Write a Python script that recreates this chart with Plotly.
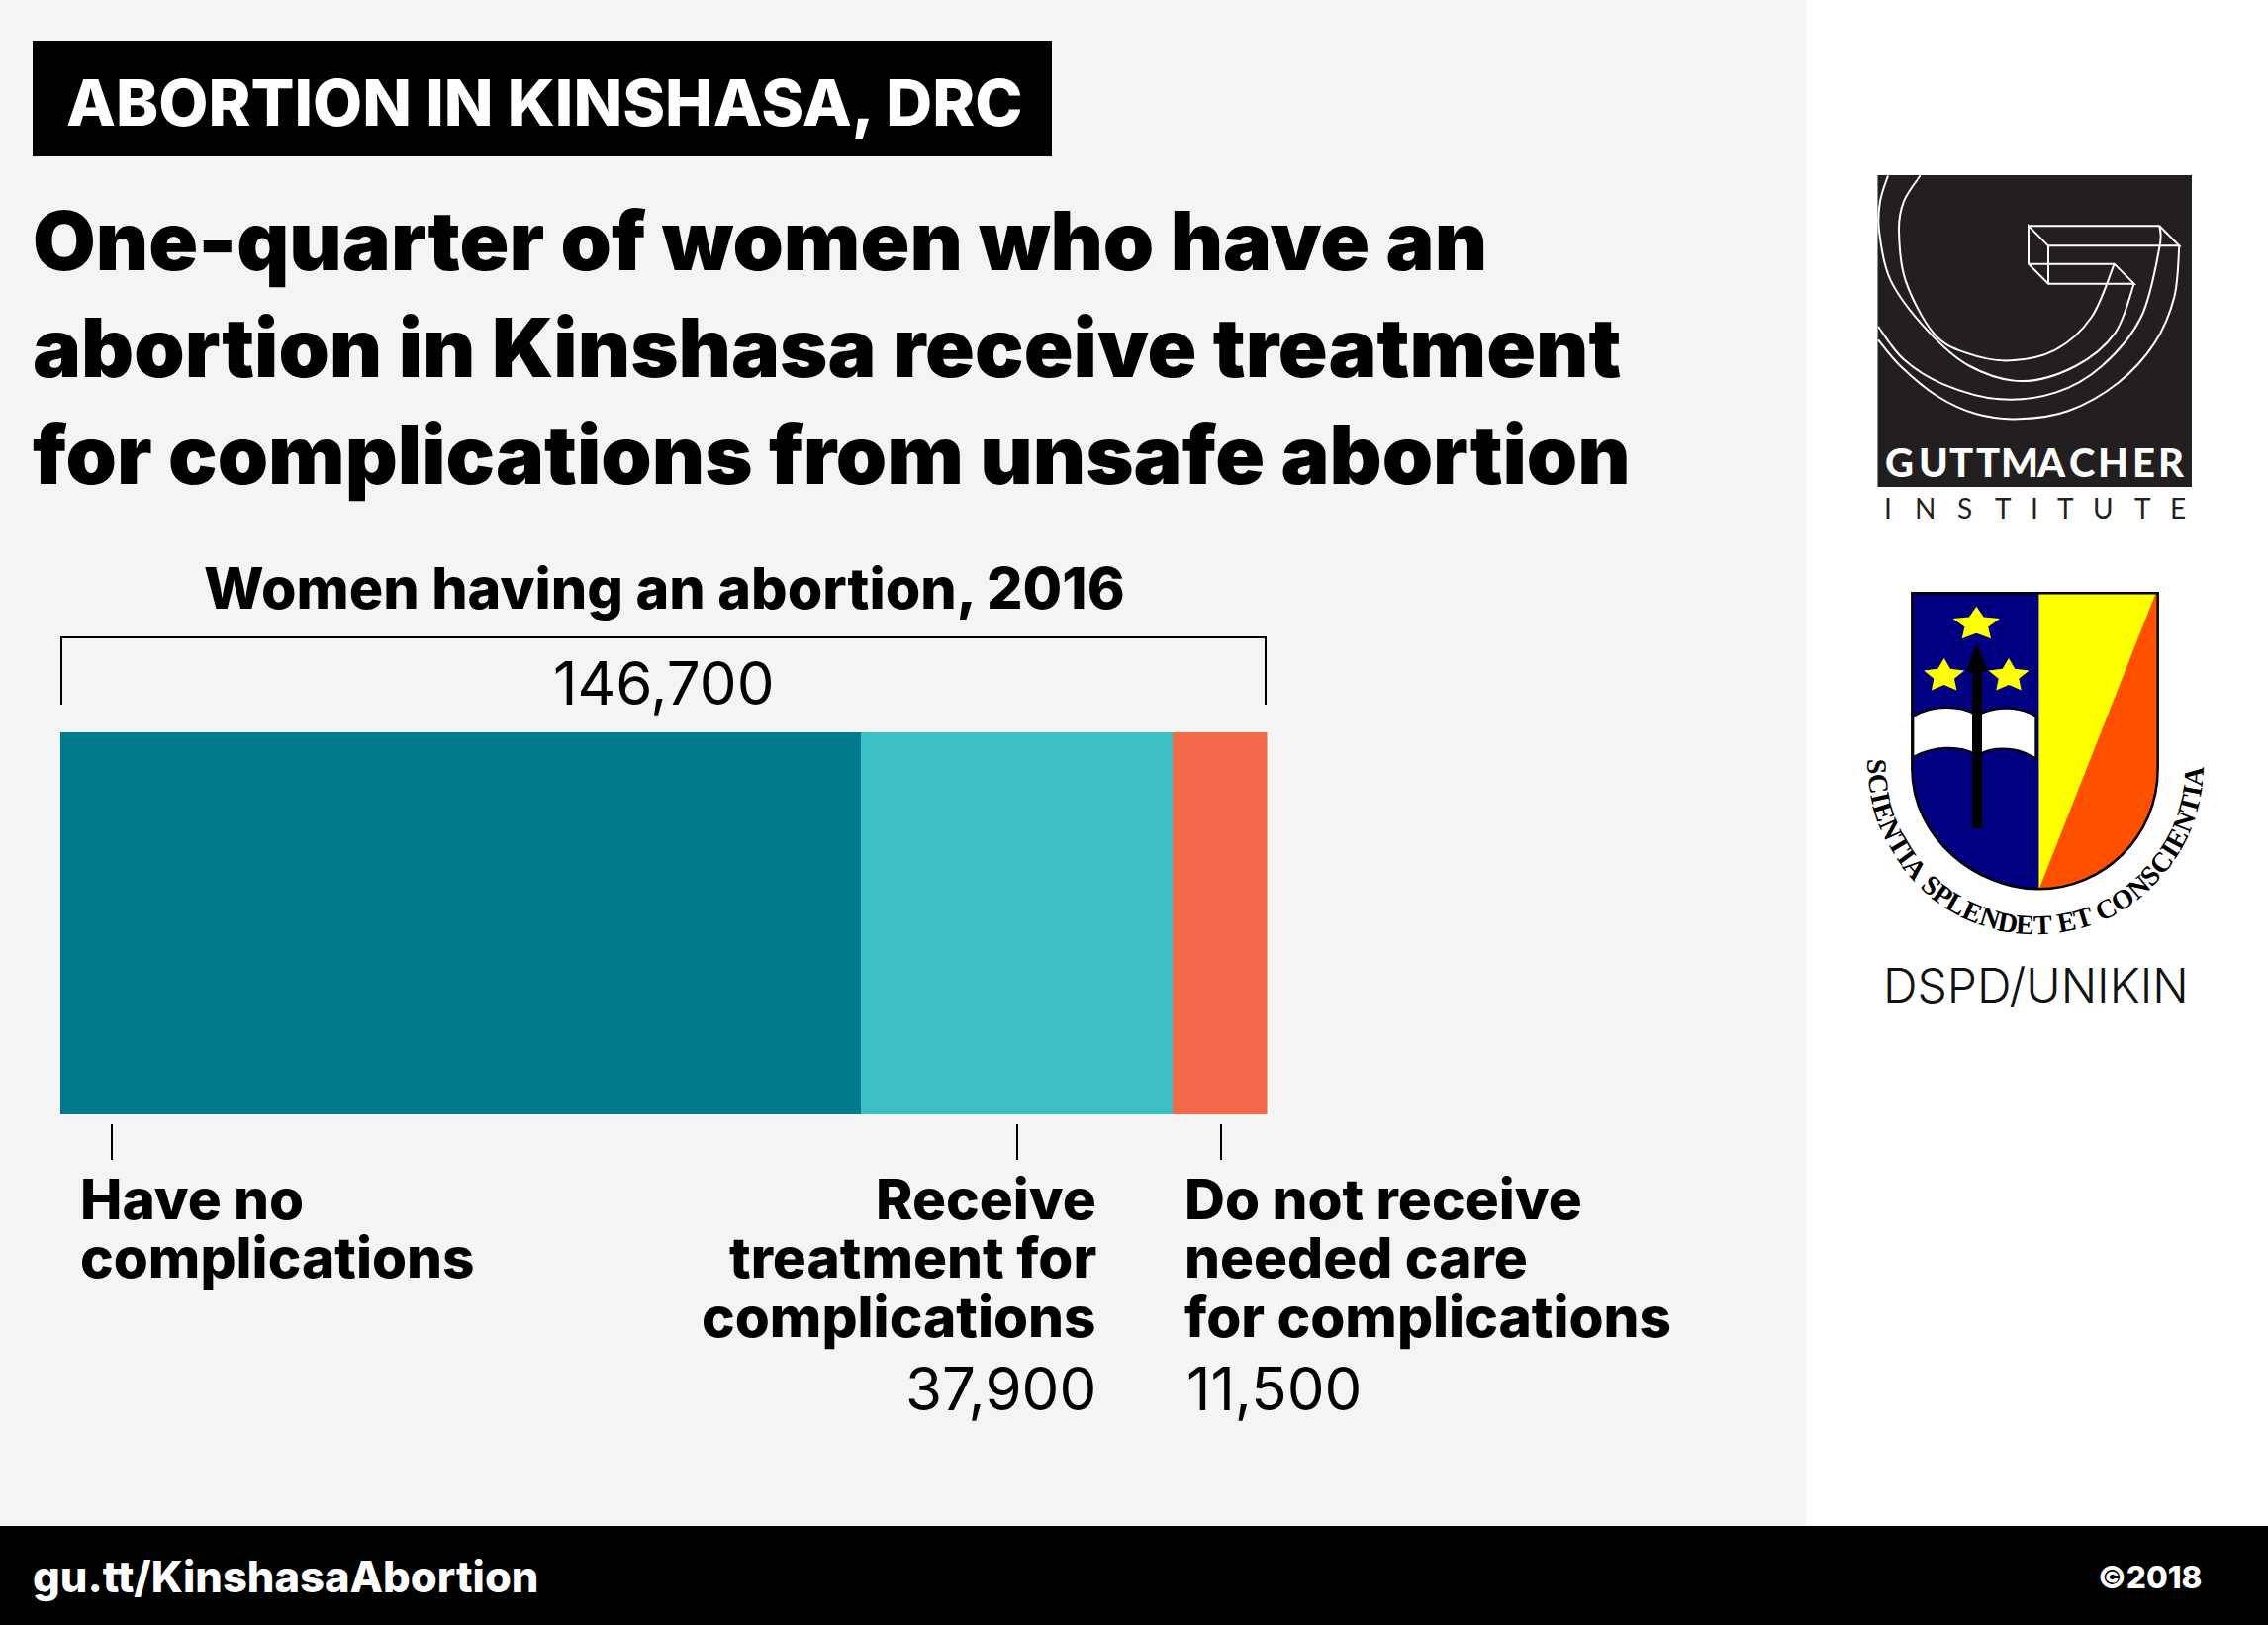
import math
import plotly.graph_objects as go

W, H = 2292, 1642

# ---- data ----
categories = ["Have no complications", "Receive treatment for complications", "Do not receive needed care for complications"]
values = [97300, 37900, 11500]
colors = ["#007A8C", "#3CC0C3", "#F4694A"]
total_label = "146,700"
tag_title = "ABORTION IN KINSHASA, DRC"
headline = ["One-quarter of women who have an",
            "abortion in Kinshasa receive treatment",
            "for complications from unsafe abortion"]
subhead = "Women having an abortion, 2016"
label_a = ["Have no", "complications"]
label_b = ["Receive", "treatment for", "complications"]
label_c = ["Do not receive", "needed care", "for complications"]
value_b = "37,900"
value_c = "11,500"
footer_left = "gu.tt/KinshasaAbortion"
footer_right = "©2018"
motto = "SCIENTIA SPLENDET ET CONSCIENTIA"

FONT = "Inter"
px = lambda x: x / W
py = lambda y: 1 - y / H
shapes, annos = [], []

def rect(x0, y0, x1, y1, color, layer="below"):
    shapes.append(dict(type="rect", xref="paper", yref="paper", x0=px(x0), x1=px(x1), y0=py(y0), y1=py(y1),
                       fillcolor=color, line_width=0, layer=layer))

def line(x0, y0, x1, y1, color="#000000", width=2):
    shapes.append(dict(type="line", xref="paper", yref="paper", x0=px(x0), x1=px(x1), y0=py(y0), y1=py(y1),
                       line=dict(color=color, width=width)))

def text(s, x, y, size, color="#000000", weight=400, anchor="left", family=FONT, angle=0):
    annos.append(dict(text=s, xref="paper", yref="paper", x=px(x), y=py(y), xanchor=anchor, yanchor="middle",
                      showarrow=False, textangle=angle, borderpad=0, borderwidth=0,
                      font=dict(family=family, size=size, color=color, weight=weight)))

def path(points_cmd, fill=None, stroke=None, width=0):
    shapes.append(dict(type="path", xref="paper", yref="paper", path=points_cmd,
                       fillcolor=fill if fill else "rgba(0,0,0,0)",
                       line=dict(color=stroke if stroke else "rgba(0,0,0,0)", width=width)))

# backgrounds
rect(0, 0, 1825, 1542, "#F4F4F4")
rect(1825, 0, W, 1542, "#FFFFFF")
rect(0, 1542, W, H, "#000000")
rect(33, 41, 1063, 158, "#000000")

# header text
text(tag_title, 67, 103, 65, "#FFFFFF", 800)
for s, y in zip(headline, [243, 351, 459]):
    text(s, 33, y, 82.3, "#000000", 900)
text(subhead, 671, 594, 57.4, "#000000", 800, "center")

# bracket
path(f"M{px(62)},{py(712)} L{px(62)},{py(644)} L{px(1279)},{py(644)} L{px(1279)},{py(712)}", stroke="#000000", width=2)
text(total_label, 671, 690, 60, "#000000", 400, "center")

# ticks
for x in [113, 1028, 1234]:
    line(x, 1136, x, 1172, "#000000", 2)

# labels
ys = [1211, 1270, 1330]
LS = 56.7
for s, y in zip(label_a, ys):
    text(s, 81, y, LS, "#000000", 800)
for s, y in zip(label_b, ys):
    text(s, 1108, y, LS, "#000000", 800, "right")
for s, y in zip(label_c, ys):
    text(s, 1197, y, LS, "#000000", 800)
text(value_b, 1108, 1403, 60, "#000000", 400, "right")
text(value_c, 1199, 1403, 60, "#000000", 400)

# footer
text(footer_left, 33, 1593, 43.5, "#FFFFFF", 800)
text(footer_right, 2226, 1593, 31.5, "#FFFFFF", 800, "right")

# ---- Guttmacher logo (zoom coordinates -> page pixels) ----
zx1 = lambda x: px(1824 + x / 3)
zy1 = lambda y: py(150 + y / 3)
rect(1897.5, 177, 2215, 492, "#231F20", "above")

def spline(pts):
    d = f"M{zx1(pts[0][0])},{zy1(pts[0][1])}"
    n = len(pts)
    for i in range(n - 1):
        p0 = pts[max(i - 1, 0)]; p1 = pts[i]; p2 = pts[i + 1]; p3 = pts[min(i + 2, n - 1)]
        c1 = (p1[0] + (p2[0] - p0[0]) / 6, p1[1] + (p2[1] - p0[1]) / 6)
        c2 = (p2[0] - (p3[0] - p1[0]) / 6, p2[1] - (p3[1] - p1[1]) / 6)
        d += f" C{zx1(c1[0])},{zy1(c1[1])} {zx1(c2[0])},{zy1(c2[1])} {zx1(p2[0])},{zy1(p2[1])}"
    return d

curves = [
    [(350, 82), (300, 160), (285, 250), (305, 400), (390, 560), (490, 620), (620, 643), (760, 610), (870, 510), (938, 350)],
    [(252, 82), (228, 160), (225, 250), (260, 400), (370, 550), (500, 660), (660, 705), (820, 660), (940, 560), (998, 410)],
    [(222, 540), (300, 640), (420, 715), (590, 760), (760, 740), (900, 660), (1020, 510), (1075, 300), (1075, 235)],
    [(222, 580), (290, 660), (400, 750), (520, 805), (650, 820), (800, 795), (950, 710), (1060, 590), (1120, 450), (1135, 295)],
]
for c in curves:
    path(spline(c), stroke="#FFFFFF", width=2)

def poly(pts, close=False, fill=None, stroke="#FFFFFF", width=2, zx=zx1, zy=zy1):
    d = "M" + " L".join(f"{zx(x)},{zy(y)}" for x, y in pts) + (" Z" if close else "")
    path(d, fill=fill, stroke=stroke, width=width)

poly([(678, 235), (1075, 235), (1135, 295), (738, 295), (678, 235), (678, 350), (738, 410), (998, 410), (938, 350), (678, 350)])
poly([(738, 295), (738, 410)])

g_letters = "GUTTMACHER"
g_centers = [286, 390, 475, 555, 650, 748, 840, 935, 1028, 1112]
for ch, cx in zip(g_letters, g_centers):
    text(ch, 1824 + cx / 3, 467, 40, "#FFFFFF", 900, "center", family="Lato")
i_letters = "INSTITUTE"
i_centers = [252, 365, 485, 600, 695, 790, 905, 1025, 1130]
for ch, cx in zip(i_letters, i_centers):
    text(ch, 1824 + cx / 3, 513, 28, "#231F20", 400, "center", family="Lato")

# ---- Shield (zoom coordinates -> page pixels) ----
zx2 = lambda x: px(1824 + x / 3)
zy2 = lambda y: py(570 + y / 3)
P = lambda x, y: f"{zx2(x)},{zy2(y)}"
path(f"M{P(325,88)} L{P(710,88)} L{P(710,985)} C{P(520,985)} {P(325,830)} {P(325,620)} Z", fill="#000080")
path(f"M{P(710,88)} L{P(1070,88)} L{P(1070,620)} C{P(1070,830)} {P(900,985)} {P(710,985)} Z", fill="#FFFF00")
path(f"M{P(1064,88)} L{P(1070,88)} L{P(1070,620)} C{P(1070,830)} {P(900,985)} {P(710,985)} Z", fill="#FF5000")
# book pages
path(f"M{P(328,462)} C{P(390,425)} {P(470,430)} {P(515,455)} L{P(515,575)} C{P(470,550)} {P(390,550)} {P(328,585)} Z",
     fill="#FFFFFF", stroke="#000000", width=2)
path(f"M{P(530,455)} C{P(580,430)} {P(650,430)} {P(700,462)} L{P(700,590)} C{P(650,555)} {P(580,550)} {P(530,575)} Z",
     fill="#FFFFFF", stroke="#000000", width=2)
# arrow
poly([(507, 325), (488, 325), (522, 240), (556, 325), (537, 325), (537, 802), (507, 802)], close=True, fill="#000000",
     stroke="#000000", width=0, zx=zx2, zy=zy2)

def star(cx, cy, r, sy):
    pts = []
    for i in range(10):
        rr = r if i % 2 == 0 else r * 0.5
        a = -math.pi / 2 + i * math.pi / 5
        pts.append((cx + rr * math.cos(a), cy + sy * rr * math.sin(a)))
    poly(pts, close=True, fill="#FFFF00", stroke="#FFFF00", width=0, zx=zx2, zy=zy2)

star(520, 182, 75, 0.72)
star(422, 339, 65, 0.83)
star(618, 339, 65, 0.83)
# shield outline
path(f"M{P(325,88)} L{P(1070,88)} L{P(1070,620)} C{P(1070,830)} {P(900,985)} {P(710,985)} C{P(520,985)} {P(325,830)} {P(325,620)} Z",
     stroke="#000000", width=2.5)

# motto along the arc
widths = dict(S=.556, C=.722, I=.389, E=.667, N=.722, T=.667, A=.722, P=.611, L=.667, D=.722, O=.778)
widths[" "] = .25
tot = sum(widths[c] for c in motto)
a0, a1 = math.radians(181), math.radians(1.5)
acc = 0
for ch in motto:
    w = widths[ch]
    t = (acc + w / 2) / tot
    acc += w
    if ch == " ":
        continue
    a = a0 + (a1 - a0) * t
    x = 700 + 482 * math.cos(a)
    y = 600 + 495 * math.sin(a)
    text(ch, 1824 + x / 3, 570 + y / 3, 28, "#000000", 700, "center", family="Liberation Serif",
         angle=math.degrees(a) - 90)

text("DSPD/UNIKIN", 2057, 995, 48, "#111111", 300, "center", family="Inter")

# ---- figure ----
fig = go.Figure()
for name, v, c in zip(categories, values, colors):
    fig.add_trace(go.Bar(y=["Women"], x=[v], name=name, orientation="h", marker=dict(color=c, line_width=0),
                         showlegend=False, hoverinfo="skip"))
fig.update_layout(
    width=W, height=H, margin=dict(l=0, r=0, t=0, b=0, pad=0), barmode="stack", bargap=0,
    paper_bgcolor="#F4F4F4", plot_bgcolor="rgba(0,0,0,0)", showlegend=False,
    xaxis=dict(domain=[px(61), px(1280.5)], range=[0, sum(values)], visible=False, fixedrange=True),
    yaxis=dict(domain=[py(1126), py(740)], visible=False, fixedrange=True),
    shapes=shapes, annotations=annos,
)
fig.write_html("out.html", config=dict(displayModeBar=False),
               post_script="document.body.style.margin='0';document.documentElement.style.overflow='hidden';")
